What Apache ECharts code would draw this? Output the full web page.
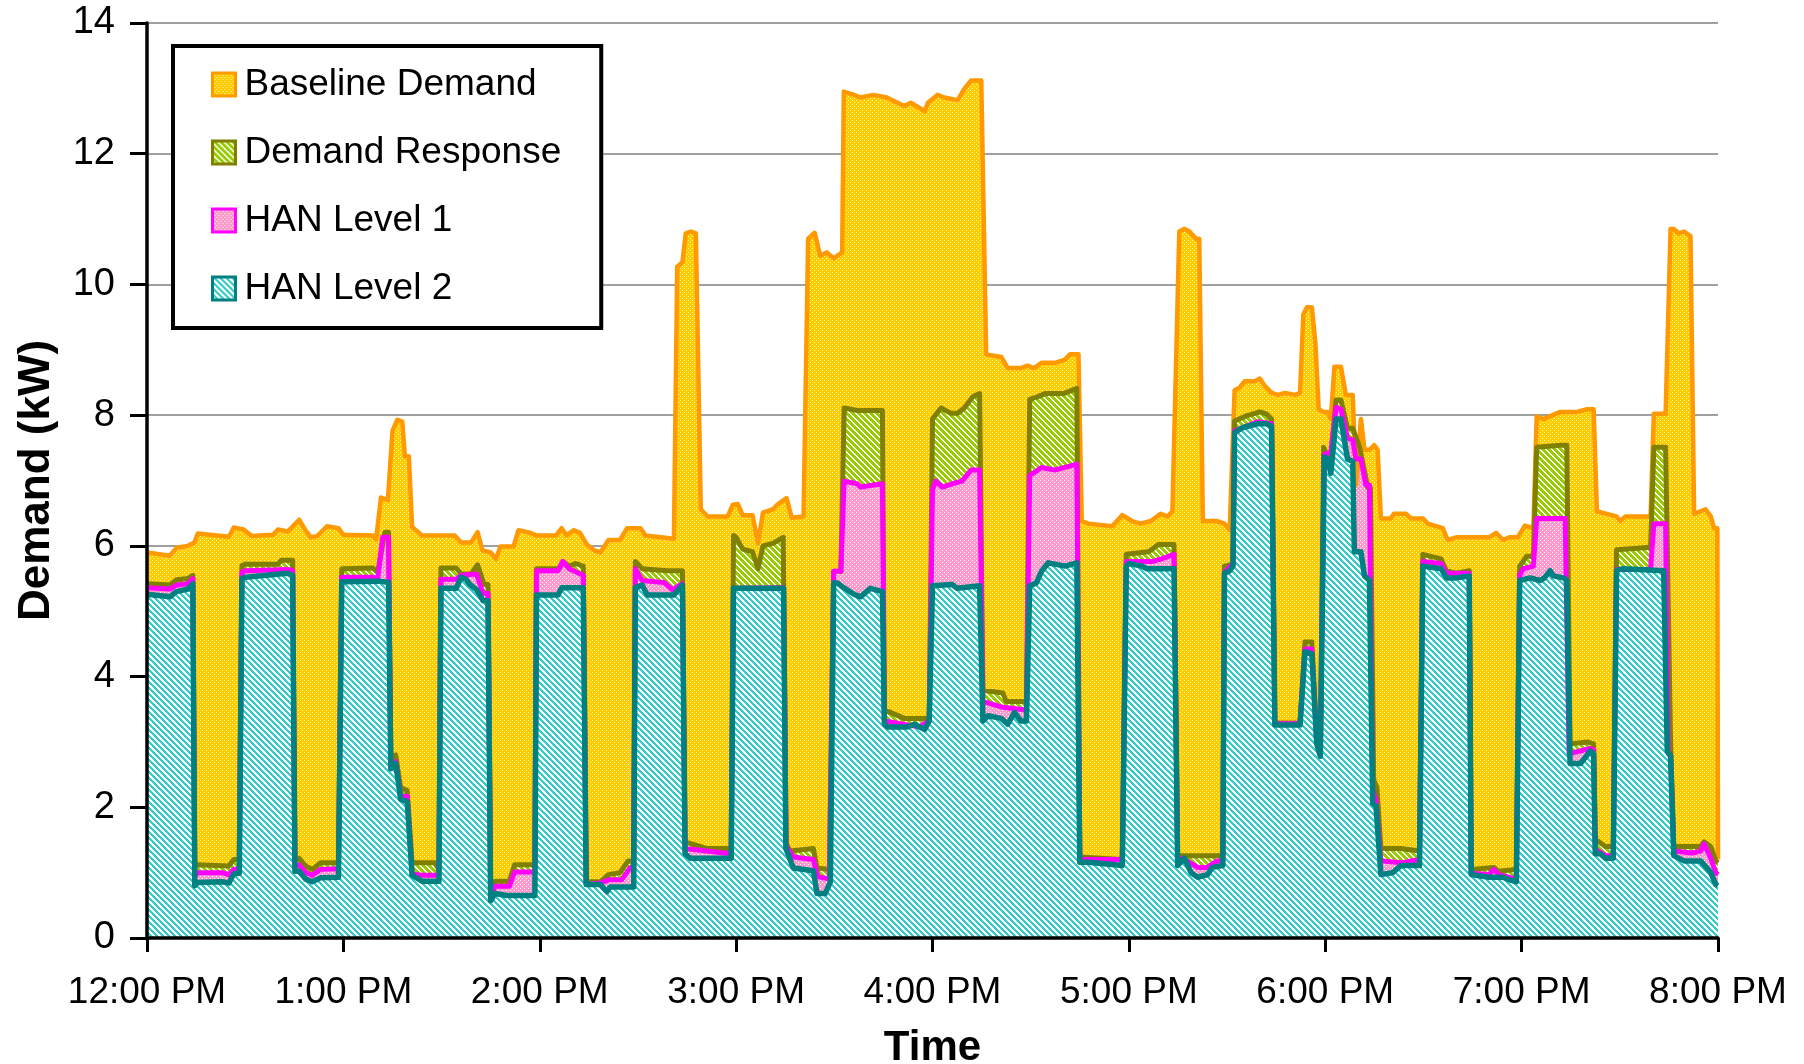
<!DOCTYPE html>
<html>
<head>
<meta charset="utf-8">
<title>Demand</title>
<script src="https://cdn.jsdelivr.net/npm/echarts/dist/echarts.min.js"></script>
<style>
  html, body { margin: 0; padding: 0; background: #fff; }
  #chart { width: 1804px; height: 1064px; }
</style>
</head>
<body>
<div id="chart"></div>
<script>
// minutes after 12:00 PM, demand in kW
const baselineDemand = [
  [0,5.9],[7,5.85],[9,5.97],[12.5,6.0],[14.5,6.05],[15.5,6.19],[25,6.14],[26.5,6.28],[29.5,6.25],[32,6.15],[38.5,6.17],[40,6.25],[43,6.22],[46.5,6.4],[48,6.27],[50,6.13],[52,6.15],[55,6.3],[58.5,6.27],[60,6.17],
  [69,6.16],[70,6.1],[71.5,6.74],[73.6,6.7],[75,7.76],[76.5,7.93],[78,7.9],[78.8,7.37],[80,7.37],[81,6.29],[84,6.16],[94,6.16],[96,6.05],[99,6.05],[101,6.21],[102.5,5.93],[105,5.9],[106.6,5.8],[108,5.99],[112,5.99],[113.5,6.24],[117,6.2],[119,6.16],
  [125,6.16],[126.7,6.27],[128.2,6.16],[130.3,6.24],[132.3,6.2],[134.4,6.02],[136.4,5.94],[138.5,5.9],[141,6.09],[144.5,6.09],[146.7,6.27],[150.8,6.27],[152.3,6.16],[161,6.11],[162,10.27],[163.6,10.34],[164.6,10.78],[166.2,10.81],[167.7,10.78],[169.2,6.56],[171.3,6.45],[177.4,6.45],[179,6.63],
  [180.5,6.64],[182,6.47],[185,6.47],[186.7,6.04],[188.2,6.51],[191.3,6.56],[192.8,6.64],[195.4,6.73],[197,6.43],[200.6,6.45],[202,10.7],[204,10.79],[205.7,10.44],[207.7,10.49],[209.8,10.4],[212.4,10.49],[212.9,12.95],[216,12.9],[218,12.86],[222,12.9],[226,12.86],[231.4,12.73],[233.4,12.78],[237.6,12.65],[238.6,12.78],
  [241.5,12.9],[243.6,12.86],[247.7,12.82],[249.7,12.99],[251.8,13.12],[254.9,13.12],[256.4,8.93],[261,8.89],[263,8.72],[267,8.72],[269,8.76],[271,8.72],[273.3,8.8],[277.4,8.8],[280.5,8.85],[282,8.93],[284.6,8.93],[285.6,6.38],[287.7,6.34],[294.9,6.3],[298,6.47],[301,6.38],
  [303.5,6.34],[306.7,6.38],[309.7,6.49],[311.8,6.45],[313.3,6.53],[315.4,10.81],[317,10.85],[318.5,10.81],[320.5,10.7],[321.5,10.7],[322.6,6.38],[327,6.38],[329.2,6.34],[330.8,6.24],[332.3,8.38],[333.8,8.42],[335.4,8.52],[338.5,8.52],[340,8.56],[341.5,8.45],[343.6,8.34],[345.6,8.31],[347.7,8.34],[350.8,8.31],[352.3,8.34],[353.3,9.54],[354.4,9.65],[355.9,9.65],[357,9.1],[358,8.09],[359.5,8.05],
  [360.7,8.05],[361.7,7.94],[362.8,8.74],[364.8,8.74],[366.3,8.31],[368.4,8.31],[369.4,6.93],[370.9,7.94],[372,7.47],[373.5,7.47],[375,7.54],[376,7.47],[377,6.42],[380,6.42],[381,6.49],[384.7,6.49],[386.2,6.42],[389.8,6.42],[391.3,6.34],[395.9,6.27],[397.4,6.09],[400,6.13],[410,6.13],[412.2,6.2],[414.3,6.09],[416.3,6.13],[418.8,6.13],[421,6.31],
  [423.6,6.27],[424.6,7.98],[426.6,7.94],[431.8,8.05],[436.9,8.05],[440,8.09],[442,8.09],[443,6.53],[446,6.49],[449,6.45],[450.2,6.38],[451.7,6.45],[459.4,6.45],[460.4,8.02],[464,8.02],[465.5,10.85],[466.5,10.85],[468,10.78],[469.6,10.81],[471.6,10.74],[472.7,6.49],[474.7,6.53],[476.2,6.56],[477.8,6.45],[478.8,6.27],[479.8,6.27],[480,1.2]
];

const demandResponse = [
  [0,5.42],[7,5.4],[9,5.48],[12.5,5.5],[14,5.55],[14.6,1.1],[15.5,1.12],[25,1.1],[26.5,1.2],[28.2,1.2],[29,5.7],[30,5.72],[40,5.72],[41,5.78],[44.5,5.78],[45.2,1.2],[46.5,1.22],[48.5,1.1],[50.5,1.05],[53,1.15],[58.5,1.15],[59.5,5.65],
  [69,5.66],[70.5,5.6],[72.7,6.21],[73.8,6.21],[74.5,2.75],[76,2.8],[77.5,2.3],[79.5,2.26],[81,1.15],[88,1.15],[89.2,1.04],[89.8,5.66],[94.5,5.66],[96,5.57],[99,5.57],[101,5.71],[103,5.41],[104.2,5.41],[105,0.7],[106.3,0.87],[110.7,0.87],[112.3,1.12],[118.5,1.12],
  [119,5.65],[126,5.65],[127,5.76],[129,5.69],[131,5.73],[133.3,5.69],[134.2,0.86],[138.5,0.86],[141,0.97],[144.5,1.0],[147,1.18],[148.7,1.18],[149.2,5.76],[151.3,5.65],[159,5.62],[163.6,5.62],[164.4,1.47],[171,1.37],[178.5,1.37],
  [179.2,6.16],[180,6.13],[182,5.95],[185,5.91],[186.7,5.65],[188.2,6.0],[191.3,6.04],[194.4,6.13],[195.2,1.45],[196.5,1.33],[203.6,1.37],[204.7,1.07],[208.5,1.05],[209.8,5.61],[212,5.61],[213,8.11],[217,8.07],[224.7,8.07],[225.3,3.49],[231.4,3.36],[239,3.36],
  [240,7.94],[242.6,8.11],[245.6,8.03],[247.7,8.03],[249.7,8.11],[252.3,8.28],[254.4,8.33],[255.4,3.79],[261.5,3.75],[262.5,3.62],[268.7,3.62],[269.7,8.24],[272,8.28],[274.4,8.33],[280,8.33],[284.1,8.41],[285,1.24],[298,1.2],
  [299.2,5.87],[306,5.91],[309,6.02],[313.8,6.02],[314.9,1.26],[328.7,1.26],[329.2,5.69],[331.8,5.72],[332.3,7.91],[335.4,7.98],[340,8.05],[342,8.02],[343.6,7.94],[344.6,3.29],[352.3,3.29],[353.8,4.53],[355.9,4.53],[357.4,3.05],[358.5,2.85],
  [359.5,7.51],[360.7,7.36],[361.7,7.36],[363.3,8.23],[364.8,8.23],[366.8,7.8],[368.4,7.8],[370.5,7.51],[373,6.89],[373.8,6.89],[374.8,2.42],[375.8,2.3],[377,1.37],[383,1.37],[388.8,1.33],[389.8,5.87],[395.4,5.8],[397,5.62],[400,5.58],[404,5.62],[404.6,1.05],[411.5,1.08],[413,1.02],[418.4,1.05],
  [419.4,5.69],[421.5,5.84],[423.6,5.84],[424.6,7.51],[431.8,7.54],[433.8,7.54],[434.8,2.97],[440,3.0],[442,2.97],[442.5,1.51],[445.6,1.4],[448,1.4],[449,5.94],[459.4,5.98],[460.4,7.51],[464,7.51],[465.5,3.04],[466.5,1.4],[474.7,1.4],[475.7,1.47],[477.8,1.4],[479.3,1.18],[480,1.15]
];

const hanLevel1 = [
  [0,5.36],[7,5.34],[9,5.4],[12.5,5.42],[14,5.5],[14.6,0.95],[15.5,1.0],[23,1.0],[25,0.97],[26.5,1.05],[28.2,1.06],[29,5.6],[30,5.62],[43,5.64],[44.5,5.62],[45.2,1.1],[46.5,1.12],[48.5,1.0],[50.5,0.96],[53,1.05],[58.5,1.06],[59.5,5.52],
  [69,5.52],[70.5,5.5],[72,6.13],[73.8,6.13],[74.5,2.6],[76,2.7],[77.5,2.17],[79.5,2.17],[81,0.98],[84,0.96],[89.2,0.96],[89.8,5.49],[94.5,5.49],[96,5.55],[100.7,5.57],[102.7,5.27],[104.2,5.27],[105,0.62],[106.3,0.79],[110.7,0.79],[112.3,1.01],[118.5,1.01],
  [119,5.62],[125.6,5.62],[127,5.76],[129,5.65],[133.3,5.55],[134.2,0.82],[138.5,0.84],[141,0.89],[145,0.89],[147.7,1.08],[148.7,1.08],[149.2,5.65],[151.3,5.47],[158,5.44],[160.5,5.33],[163.6,5.42],[164.4,1.37],[171,1.33],[178.5,1.29],
  [179.2,5.35],[194.5,5.36],[195.3,1.4],[197.5,1.24],[203.6,1.2],[205,0.94],[208.5,0.9],[209.8,5.61],[212,5.61],[213,6.99],[217,6.95],[218,6.9],[224.7,6.95],[225.3,3.32],[236,3.23],[239,3.32],
  [240,6.86],[241,6.99],[243,6.9],[246,6.95],[249,6.99],[251.8,7.16],[254.4,7.16],[255.4,3.62],[261.5,3.53],[268.7,3.49],[269.7,7.08],[272.2,7.16],[273.3,7.2],[277.4,7.16],[280.5,7.2],[284.1,7.25],[285,1.2],[298,1.2],
  [299.2,5.76],[307,5.76],[310,5.8],[313.8,5.87],[314.9,1.2],[316.5,1.22],[321,1.08],[324,1.08],[327,1.18],[328.7,1.18],[329.2,5.6],[331.8,5.72],[332.3,7.76],[339.5,7.9],[343.6,7.87],[344.6,3.28],[352.3,3.28],[353.8,4.42],[355.9,4.42],[357.4,3.0],[358.5,2.8],
  [359.7,7.4],[361.7,7.43],[363.3,8.12],[364.8,8.09],[366.8,7.65],[368.4,7.62],[369.4,7.33],[370.9,7.33],[372.4,6.93],[373.5,6.93],[374.5,2.27],[375.5,2.1],[377,1.18],[383.2,1.15],[388.8,1.2],[389.8,5.76],[395.4,5.73],[397,5.58],[404,5.58],[404.6,0.99],[410,0.97],[411.5,1.05],[413,0.97],[418.4,0.9],
  [419.4,5.55],[420.5,5.65],[423.6,5.69],[424.6,6.42],[433.3,6.42],[434.5,2.82],[441,2.9],[442,2.88],[442.5,1.36],[445.6,1.26],[448,1.26],[449,5.64],[459.4,5.64],[460.4,6.34],[464,6.34],[464.8,2.82],[465.5,2.8],[466.5,1.33],[472,1.3],[474.7,1.33],[475.7,1.44],[477.8,1.22],[479.3,1.0],[480,0.97]
];

const hanLevel2 = [
  [0,5.26],[7,5.22],[9,5.3],[12.5,5.34],[14,5.42],[14.6,0.8],[15.5,0.85],[23,0.86],[25,0.84],[26.5,0.98],[28.2,0.99],[29,5.5],[30,5.52],[43,5.58],[44.5,5.55],[45.2,1.02],[46.5,1.02],[48.5,0.9],[50.5,0.86],[53,0.92],[58.5,0.93],[59.5,5.45],
  [71,5.46],[73.8,5.44],[74.5,2.59],[76,2.67],[77.5,2.12],[79.5,2.09],[81,0.96],[84,0.87],[89.2,0.87],[89.8,5.35],[94.5,5.35],[96,5.52],[97.5,5.49],[98.6,5.41],[100.7,5.33],[102.7,5.16],[104.2,5.16],[105,0.57],[106.3,0.68],[110,0.65],[118.5,0.65],
  [119,5.25],[125.6,5.25],[126.7,5.36],[133.3,5.36],[134.2,0.82],[138.5,0.82],[140.5,0.71],[141.5,0.78],[148.7,0.78],[149.2,5.36],[151.3,5.4],[152.8,5.25],[161,5.25],[163.6,5.4],[164.4,1.29],[166,1.22],[178.5,1.22],
  [179.2,5.35],[194.5,5.35],[195.2,1.37],[197.5,1.07],[203.6,1.03],[204.7,0.68],[207.2,0.68],[208.8,0.86],[209.8,5.43],[211,5.43],[212,5.39],[216,5.26],[218,5.22],[221,5.35],[224.7,5.3],[225.3,3.27],[226.2,3.23],[232.4,3.23],[234.5,3.27],[237.6,3.19],[239,3.32],
  [240,5.39],[246,5.41],[247.5,5.35],[254.4,5.39],[255.4,3.32],[257,3.4],[261,3.36],[263,3.27],[265,3.45],[267,3.32],[268.7,3.32],[269.7,5.39],[271.7,5.43],[273.3,5.61],[275.4,5.74],[280.5,5.69],[284.1,5.74],[285,1.16],[287.7,1.16],[298,1.11],
  [299.2,5.69],[300,5.73],[304,5.69],[305.5,5.65],[313.8,5.65],[314.9,1.11],[317,1.22],[319,1.0],[321,0.93],[324,0.97],[325.5,1.08],[328.7,1.11],[329.2,5.58],[330.8,5.62],[331.8,5.69],[332.3,7.73],[334.4,7.8],[336.4,7.83],[339.5,7.87],[342,7.87],[343.6,7.83],[344.6,3.26],[352.3,3.26],[353.8,4.38],[355.9,4.35],[357.4,2.97],[358.5,2.78],
  [359.7,7.36],[360.7,7.33],[361.7,7.11],[363.3,7.94],[364.8,7.94],[366.8,7.33],[368.4,7.29],[368.9,5.91],[370.9,5.91],[372,5.54],[373.5,5.47],[374.5,2.06],[375.5,2.02],[377,0.97],[380.6,1.0],[383.2,1.11],[388.8,1.11],[389.8,5.69],[395.4,5.65],[397,5.51],[400,5.51],[404,5.54],[404.6,0.97],[410,0.93],[414.3,0.93],[416.3,0.89],[418.4,0.86],
  [419.4,5.47],[422.6,5.51],[425.6,5.47],[427,5.51],[428.7,5.62],[429.7,5.54],[432.8,5.51],[433.8,5.47],[434.8,2.67],[438,2.67],[441,2.86],[442,2.82],[442.5,1.29],[444,1.29],[445.6,1.22],[448,1.22],[449,5.62],[451,5.65],[463.4,5.62],[464.5,2.86],[465.5,2.78],[466.5,1.26],[469.6,1.18],[474.7,1.18],[477.8,1.0],[479.3,0.82],[480,0.8]
];

const timeLabels = ['12:00 PM', '1:00 PM', '2:00 PM', '3:00 PM', '4:00 PM', '5:00 PM', '6:00 PM', '7:00 PM', '8:00 PM'];
const seriesNames = ['Baseline Demand', 'Demand Response', 'HAN Level 1', 'HAN Level 2'];

const font = '"Liberation Sans", Arial, sans-serif';

// small repeating tiles to mimic the excel fill patterns
function makePattern(bg, fg, type, size, band) {
  const c = document.createElement('canvas');
  c.width = size; c.height = size;
  const ctx = c.getContext('2d');
  ctx.fillStyle = bg;
  ctx.fillRect(0, 0, size, size);
  ctx.fillStyle = fg;
  for (let y = 0; y < size; y++) {
    for (let x = 0; x < size; x++) {
      if (type === 'hatch') {
        if ((((x - y) % size) + size) % size < band) ctx.fillRect(x, y, 1, 1);
      } else if ((x % 4 === 0 && y % 4 === 0) || (x % 4 === 2 && y % 4 === 2)) {
        ctx.fillRect(x, y, 1, 1);
      }
    }
  }
  return { image: c, repeat: 'repeat' };
}

const fills = [
  makePattern('#FFCC00', '#FFF3B8', 'dots', 4),
  makePattern('#FFFFFF', '#99CC00', 'hatch', 6, 4),
  makePattern('#FF99CC', '#FFFFFF', 'dots', 4),
  makePattern('#FFFFFF', '#33CCCC', 'hatch', 6, 3)
];
const lineColors = ['#FF9900', '#808000', '#FF00FF', '#008080'];
const lineWidths = [4.5, 5, 5, 5.5];
const seriesData = [baselineDemand, demandResponse, hanLevel1, hanLevel2];

const chart = echarts.init(document.getElementById('chart'), null, { renderer: 'canvas' });

const series = seriesData.map((d, i) => ({
  name: seriesNames[i],
  type: 'line',
  data: d,
  xAxisIndex: 0,
  yAxisIndex: 0,
  showSymbol: false,
  symbol: 'none',
  silent: true,
  lineStyle: { color: lineColors[i], width: lineWidths[i], join: 'round' },
  itemStyle: { color: lineColors[i] },
  areaStyle: { color: fills[i], opacity: 1 },
  emphasis: { disabled: true }
}));

const option = {
  animation: false,
  backgroundColor: '#fff',
  grid: { left: 147, right: 86, top: 23, bottom: 126, outerBoundsMode: 'none' },
  legend: {
    orient: 'vertical',
    left: 173,
    top: 46,
    padding: [20, 40, 21, 38],
    itemWidth: 23,
    itemHeight: 23,
    itemGap: 31,
    icon: 'rect',
    selectedMode: false,
    backgroundColor: '#fff',
    borderColor: '#000',
    borderWidth: 4,
    borderRadius: 0,
    textStyle: { fontSize: 37, color: '#000', fontFamily: font, padding: [0, 0, 0, 4] },
    data: seriesNames.map((n, i) => ({
      name: n,
      itemStyle: { color: fills[i], borderColor: lineColors[i], borderWidth: 3 }
    }))
  },
  xAxis: {
    type: 'value',
    min: 0,
    max: 480,
    interval: 60,
    z: 10,
    axisLine: { show: true, onZero: false, lineStyle: { color: '#000', width: 3.5 } },
    axisTick: { show: true, length: 14, lineStyle: { color: '#000', width: 3 } },
    axisLabel: {
      fontSize: 37, color: '#000', margin: 36, fontFamily: font,
      showMinLabel: true, showMaxLabel: true,
      formatter: v => timeLabels[Math.round(v / 60)]
    },
    splitLine: { show: false },
    name: 'Time',
    nameLocation: 'middle',
    nameGap: 89,
    nameMoveOverlap: false,
    nameTextStyle: { fontSize: 42, fontWeight: 'bold', color: '#000', fontFamily: font }
  },
  yAxis: [
    {
      // gridlines only, kept behind the areas
      type: 'value', min: 0, max: 14, interval: 2, position: 'left',
      axisLine: { show: false }, axisTick: { show: false }, axisLabel: { show: false },
      splitLine: { show: true, lineStyle: { color: '#A0A0A0', width: 2 } }
    },
    {
      type: 'value', min: 0, max: 14, interval: 2, position: 'left', offset: 0, z: 10,
      axisLine: { show: true, onZero: false, lineStyle: { color: '#000', width: 3.5 } },
      axisTick: { show: true, length: 17, lineStyle: { color: '#000', width: 3 } },
      axisLabel: { fontSize: 38, color: '#000', margin: 32, fontFamily: font, showMinLabel: true, showMaxLabel: true },
      splitLine: { show: false },
      name: 'Demand (kW)',
      nameLocation: 'middle',
      nameGap: 88,
      nameRotate: 90,
      nameMoveOverlap: false,
      nameTextStyle: { fontSize: 44, fontWeight: 'bold', color: '#000', fontFamily: font }
    }
  ],
  series: series
};

chart.setOption(option);
</script>
</body>
</html>
